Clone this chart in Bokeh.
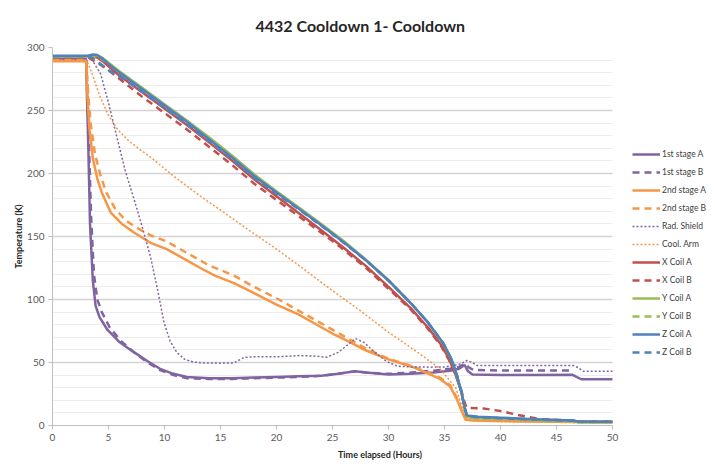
from bokeh.plotting import figure
from bokeh.models import Legend, LegendItem, SingleIntervalTicker, FixedTicker
from bokeh.embed import file_html
from bokeh.resources import INLINE

# ---------------- data ----------------
t_s1a = [0, 3.0, 3.05, 3.2, 3.35, 3.6, 3.85, 4.2, 4.9, 6.0, 7.3, 8.5, 9.6, 10.8, 12.0, 14, 16, 18, 20, 22, 24,
         25.5, 27, 28, 30, 32, 34, 35.5, 36.3, 36.8, 37.1, 37.5, 40, 43, 46.4, 46.7, 47.2, 50]
T_s1a = [291, 291, 270, 220, 160, 115, 95, 86, 76, 66, 58, 51, 45, 41, 38.5, 37.5, 37.5, 38, 38.5, 39, 39.5,
         41, 43, 42, 40.5, 41, 42, 43.5, 45, 48, 43, 40.5, 40, 40, 40.3, 39, 36.7, 36.7]

t_s1b = [0, 3.0, 3.1, 3.25, 3.45, 3.7, 4.0, 4.4, 5.1, 6.1, 7.3, 8.5, 9.6, 10.8, 12.0, 14, 16, 18, 20, 22, 24,
         25.5, 27, 28, 30, 32, 34, 35.5, 36.3, 36.8, 37.2, 37.6, 40, 43, 46.4]
T_s1b = [292, 292, 272, 225, 165, 120, 100, 90, 78, 67, 58, 50, 44, 40, 37.5, 37, 37, 37.5, 38, 38.5, 39.5,
         41, 43, 42, 41, 42, 43.5, 45, 46.5, 49, 46, 44, 43.7, 43.7, 43.7]

t_s2a = [0, 3.0, 3.1, 3.3, 3.6, 4.0, 4.4, 5.2, 6.2, 7.3, 8.75, 10.2, 12, 13.2, 14.5, 16.2, 18, 20, 22, 24, 25,
         26.6, 28, 30, 32.3, 34.6, 35.5, 36.1, 36.6, 36.9, 37.5, 40, 45, 50]
T_s2a = [289, 289, 265, 235, 212, 196, 185, 169, 160, 153, 145, 140, 131, 125, 119, 113, 105, 96, 88, 78, 73,
         66, 59.5, 52.5, 46, 37, 31, 21, 10, 4.5, 4, 3.5, 3, 2.5]

t_s2b = [0, 3.0, 3.15, 3.4, 3.8, 4.3, 4.8, 5.6, 6.5, 7.5, 8.75, 10.2, 12, 14, 16.2, 18, 20, 22, 24, 26, 28, 30,
         32.3, 34.6, 35.5, 36.1, 36.6, 36.9, 37.5, 40, 45, 50]
T_s2b = [290, 290, 268, 240, 215, 198, 185, 172, 163, 157, 151, 146, 137, 127, 119, 110, 101, 91, 81, 71, 61, 53,
         46.5, 38, 32, 22, 11, 5, 4.5, 3.8, 3, 2.5]

t_rad = [0, 3.0, 3.4, 4.3, 5.0, 5.8, 6.5, 7.3, 8.0, 8.75, 9.4, 9.95, 10.5, 11.1, 11.8, 12.6, 13.5, 15, 16.2, 17.1,
         18, 20, 22.1, 23.5, 24.5, 25.5, 26.5, 27.05, 27.8, 28.8, 29.8, 30.8, 32, 33.75, 35, 35.8, 36.5, 37.0,
         37.5, 37.9, 40, 43, 46.5, 46.9, 47.4, 50]
T_rad = [293, 293, 292, 279, 256, 227, 202, 179, 158, 134, 107, 82, 67, 58, 52.5, 50.3, 49.7, 49.5, 49.7, 54,
         54.5, 54.5, 55.5, 55, 54.2, 58, 65, 69, 66, 58, 51, 47, 46.5, 46.3, 46.5, 47.6, 49, 51.6,
         50, 47.6, 47.6, 47.6, 47.6, 46, 43, 43]

t_arm = [0, 3.0, 3.2, 3.5, 4.2, 5.0, 5.8, 6.8, 7.86, 8.75, 10.8, 13.2, 15, 17.7, 20, 22, 25, 27.5, 30, 32.3,
         34.6, 36, 36.6, 37, 38, 40, 45, 50]
T_arm = [290, 290, 287, 280, 262, 246, 235, 226, 218.7, 213, 198, 182, 171, 154, 140, 127, 107, 91, 74, 60,
         45, 30, 14, 5, 3.5, 3, 2.5, 2]

t_xa = [0, 3.2, 3.6, 4.0, 4.5, 5, 6, 8, 10, 12, 14, 16, 18, 20, 22, 24, 26, 28, 30, 32, 33.5, 34.7, 35.4, 36.0,
        36.5, 36.8, 37.0, 38, 40, 43, 46.5, 47, 50]
T_xa = [293, 293, 293, 292, 289, 285, 277.5, 264.5, 251.5, 238.5, 224.5, 210.5, 195.5, 182, 168.5, 155, 141,
        126.5, 110, 93, 78, 64, 53, 40, 27, 14, 7.5, 6.5, 5.8, 4.8, 3.8, 3, 3]

t_xb = [0, 3.2, 3.5, 4.0, 5, 6, 8, 10, 12, 14, 16, 18, 20, 22, 24, 26, 28, 30, 32, 33.5, 34.7, 35.4, 36.0, 36.5,
        36.8, 37.0, 37.2, 38.5, 40, 41.5, 43.5, 46.5, 47, 50]
T_xb = [292, 292, 290.5, 288, 282, 275, 261, 248, 235, 221, 207, 192, 179, 166, 153, 139.5, 125, 108.5, 92, 77,
        63, 52, 40, 28, 18, 14, 14, 13.5, 11.5, 8.5, 5, 4, 3, 3]

t_ya = [0, 3.2, 3.6, 4.0, 4.5, 5, 6, 8, 10, 12, 14, 16, 18, 20, 22, 24, 26, 28, 30, 32, 33.5, 34.9, 35.6, 36.1,
        36.5, 36.8, 37.0, 38, 40, 43, 46.5, 47, 50]
T_ya = [293, 293, 294, 293.5, 291.5, 288, 281, 268, 255, 242, 228.5, 214.5, 199.5, 186, 173, 160, 146.5, 131.5,
        115.5, 97, 82, 65, 53, 40, 27, 14, 7, 6, 5.5, 4.5, 3.5, 2.5, 2.5]

t_yb = [0, 3.2, 3.6, 4.0, 4.5, 5, 6, 8, 10, 12, 14, 16, 18, 20, 22, 24, 26, 28, 30, 32, 33.5, 34.9, 35.6, 36.1,
        36.5, 36.8, 37.0, 38, 40, 43, 46.5, 47, 50]
T_yb = [292.5, 292.5, 293, 292.5, 290.5, 287, 280, 267, 254, 241, 227.5, 213.5, 198.5, 185, 172, 159, 145.5, 131,
        115, 97, 82, 65, 53, 40, 27, 14, 6.5, 5.5, 5, 4, 3, 2.5, 2.5]

t_za = [0, 3.2, 3.6, 4.0, 4.5, 5, 6, 8, 10, 12, 14, 16, 18, 20, 22, 24, 26, 28, 30, 32, 33.5, 34.9, 35.6, 36.1,
        36.5, 36.8, 37.0, 38, 40, 43, 46.5, 47, 50]
T_za = [293.5, 293.5, 294.5, 294, 291, 287, 280, 267, 254, 241, 227, 213, 198, 185, 172, 159, 145.5, 131, 115, 97,
        82, 65, 53, 40, 27, 14, 8, 7, 6.2, 5, 4, 3, 3]

t_zb = [0, 3.2, 3.5, 4.0, 5, 6, 8, 10, 12, 14, 16, 18, 20, 22, 24, 26, 28, 30, 32, 33.5, 34.9, 35.6, 36.1, 36.5,
        36.8, 37.0, 38, 40, 43, 46.5, 47, 50]
T_zb = [293, 293, 292, 289, 282, 277, 265, 252, 239, 225.5, 211.5, 196.5, 184, 171.5, 158.5, 145, 131, 115, 97, 82,
        65, 53, 40, 27, 14, 7.5, 6.5, 5.8, 4.8, 3.8, 3, 3]

series_names = ["1st stage A", "1st stage B", "2nd stage A", "2nd stage B", "Rad. Shield", "Cool. Arm",
                "X Coil A", "X Coil B", "Y Coil A", "Y Coil B", "Z Coil A", "Z Coil B"]
x_ticks = [0, 5, 10, 15, 20, 25, 30, 35, 40, 45, 50]
x_max = 50

# ---------------- styles ----------------
PURPLE = "#8064A2"
ORANGE = "#F79646"
RED = "#C0504D"
GREEN = "#9BBB59"
BLUE = "#4F81BD"
FONT = "Lato"

series = [
    (t_s1a, T_s1a, PURPLE, "solid", 2.5),
    (t_s1b, T_s1b, PURPLE, "7 5", 2.5),
    (t_s2a, T_s2a, ORANGE, "solid", 2.5),
    (t_s2b, T_s2b, ORANGE, "7 5", 2.5),
    (t_rad, T_rad, PURPLE, "2 2", 1.5),
    (t_arm, T_arm, ORANGE, "2 2", 1.5),
    (t_xa, T_xa, RED, "solid", 2.5),
    (t_xb, T_xb, RED, "7 5", 2.5),
    (t_ya, T_ya, GREEN, "solid", 2.5),
    (t_yb, T_yb, GREEN, "7 5", 2.5),
    (t_za, T_za, BLUE, "solid", 2.5),
    (t_zb, T_zb, BLUE, "7 5", 2.5),
]

# the frame also holds the legend area: data area 0..50 takes 560 of 655 px
FRAME_W = 655
DATA_W = 560
p = figure(width=712, height=462, output_backend="svg", toolbar_location=None,
           x_range=(0, x_max * FRAME_W / DATA_W), y_range=(0, 300),
           min_border_left=52, min_border_right=5, min_border_top=47, min_border_bottom=35,
           title="4432 Cooldown 1- Cooldown")
p.outline_line_color = None
p.background_fill_color = "white"
p.border_fill_color = "white"

p.title.text_font = FONT
p.title.text_font_size = "16px"
p.title.text_font_style = "bold"
p.title.text_color = "#262626"
p.title.align = "left"
p.title.offset = 203
p.title.standoff = 26

items = []
for (tx, ty, col, dash, w), name in zip(series, series_names):
    r = p.line(tx, ty, line_color=col, line_width=w, line_dash=dash)
    items.append(LegendItem(label=name, renderers=[r]))

# grid
p.xgrid.grid_line_color = None
p.ygrid.grid_line_color = "#d4d4d4"
p.ygrid.grid_line_width = 1.3
p.ygrid.minor_grid_line_color = "#ececec"
p.ygrid.minor_grid_line_width = 1
p.ygrid.cross_bounds = (0, x_max)

# axes
p.xaxis.ticker = FixedTicker(ticks=x_ticks)
p.xaxis.bounds = (0, x_max)
p.yaxis.ticker = SingleIntervalTicker(interval=50, num_minor_ticks=5)
for ax in (p.xaxis[0], p.yaxis[0]):
    ax.axis_line_color = "#bfbfbf"
    ax.major_tick_line_color = "#bfbfbf"
    ax.minor_tick_line_color = None
    ax.major_tick_in = 0
    ax.major_tick_out = 4
    ax.major_label_text_font = FONT
    ax.major_label_text_font_size = "10px"
    ax.major_label_text_color = "#595959"
    ax.axis_label_text_font = FONT
    ax.axis_label_text_font_size = "9px"
    ax.axis_label_text_font_style = "bold"
    ax.axis_label_text_color = "#262626"
p.xaxis.axis_label = "Time elapsed (Hours)"
p.yaxis.axis_label = "Temperature (K)"
p.xaxis.major_label_standoff = 4
p.xaxis.axis_label_standoff = 5
p.yaxis.major_label_standoff = 4
p.yaxis.axis_label_standoff = 0

legend = Legend(items=items, location=(580, 68), orientation="vertical")
legend.padding = 0
legend.margin = 0
legend.spacing = 8
legend.glyph_width = 28
legend.glyph_height = 10
legend.label_height = 10
legend.label_standoff = 2
legend.label_text_font = FONT
legend.label_text_font_size = "8.5px"
legend.label_text_color = "#404040"
legend.border_line_color = None
legend.background_fill_alpha = 0
p.add_layout(legend, "center")

open("out.html", "w").write(file_html(p, INLINE))
